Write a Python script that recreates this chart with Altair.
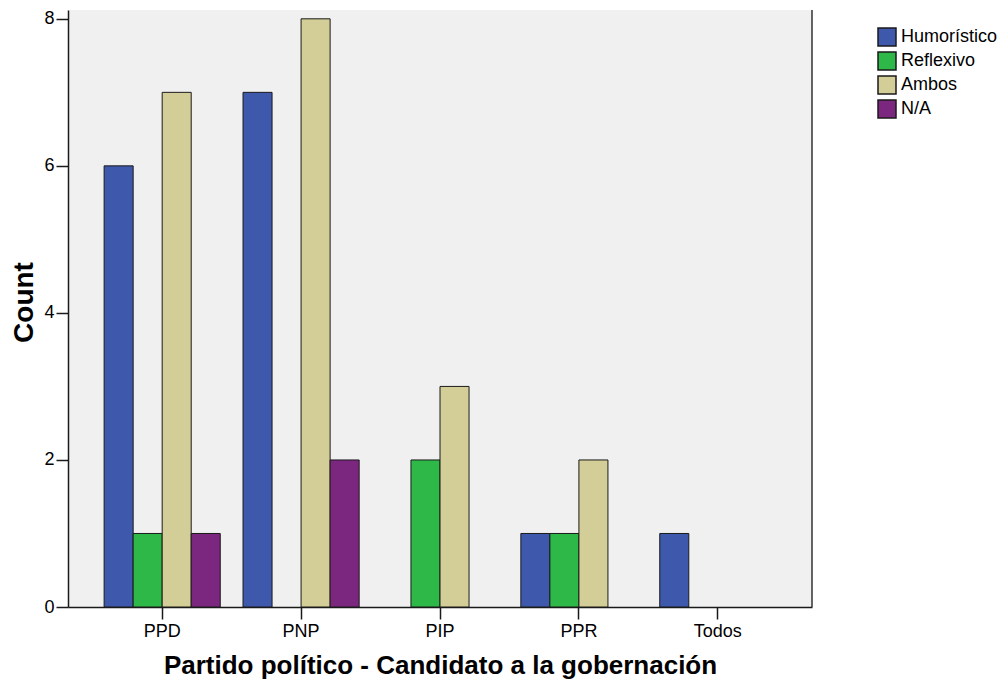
import altair as alt
import pandas as pd

parties = ["PPD", "PNP", "PIP", "PPR", "Todos"]
tipos = ["Humorístico", "Reflexivo", "Ambos", "N/A"]
humoristico = [6, 7, 0, 1, 1]
reflexivo = [1, 0, 2, 1, 0]
ambos = [7, 8, 3, 2, 0]
na = [1, 2, 0, 0, 0]
colors = ["#3E58AC", "#2EB848", "#D3CE97", "#7B267F"]

rows = []
for tipo, vals in zip(tipos, [humoristico, reflexivo, ambos, na]):
    for p, v in zip(parties, vals):
        if v > 0:
            rows.append({"Partido": p, "Tipo": tipo, "Count": v})
df = pd.DataFrame(rows)

W, H = 744, 597
FONT = "Liberation Sans"

bars = alt.Chart(df).mark_bar(stroke="#1a1a1a", strokeWidth=1).encode(
    x=alt.X("Partido:N", sort=parties,
            scale=alt.Scale(paddingInner=0.164, paddingOuter=0.26),
            axis=alt.Axis(title="Partido político - Candidato a la gobernación",
                          labelAngle=0, tickSize=12, labelPadding=3,
                          titlePadding=12, titleFontSize=26)),
    xOffset=alt.XOffset("Tipo:N", sort=tipos,
                        scale=alt.Scale(domain=tipos, paddingInner=0, paddingOuter=0)),
    y=alt.Y("Count:Q",
            scale=alt.Scale(domain=[0, 8.12], nice=False),
            axis=alt.Axis(title="Count", values=[0, 2, 4, 6, 8], grid=False,
                          tickSize=12, labelPadding=2, titlePadding=5,
                          titleFontSize=28, titleY=292)),
    color=alt.Color("Tipo:N", sort=tipos,
                    scale=alt.Scale(domain=tipos, range=colors),
                    legend=alt.Legend(title=None, orient="none", legendX=809, legendY=17,
                                      symbolType="square", symbolSize=324,
                                      symbolStrokeColor="#1a1a1a", symbolStrokeWidth=1.5,
                                      labelFontSize=18, labelFont=FONT, labelColor="#000",
                                      labelOffset=4, rowPadding=0, padding=0)),
)

border = alt.Chart(pd.DataFrame({"v": [0]})).mark_rule(color="#333", strokeWidth=1.5).encode(
    x=alt.value(W), y=alt.value(0), y2=alt.value(H)
)

chart = alt.layer(bars, border).properties(
    width=W, height=H,
    autosize=alt.AutoSizeParams(type="none"),
    padding={"left": 60, "top": 2, "right": 185, "bottom": 74},
    background="white",
).configure_view(
    fill="#F0F0F0", stroke=None
).configure_axis(
    domainColor="#1a1a1a", domainWidth=1.5, tickColor="#1a1a1a", tickWidth=1.5,
    labelFont=FONT, labelFontSize=18, labelColor="#000",
    titleFont=FONT, titleFontWeight="bold", titleColor="#000",
)

chart.save("out.html", embed_options={"renderer": "svg", "actions": False})
